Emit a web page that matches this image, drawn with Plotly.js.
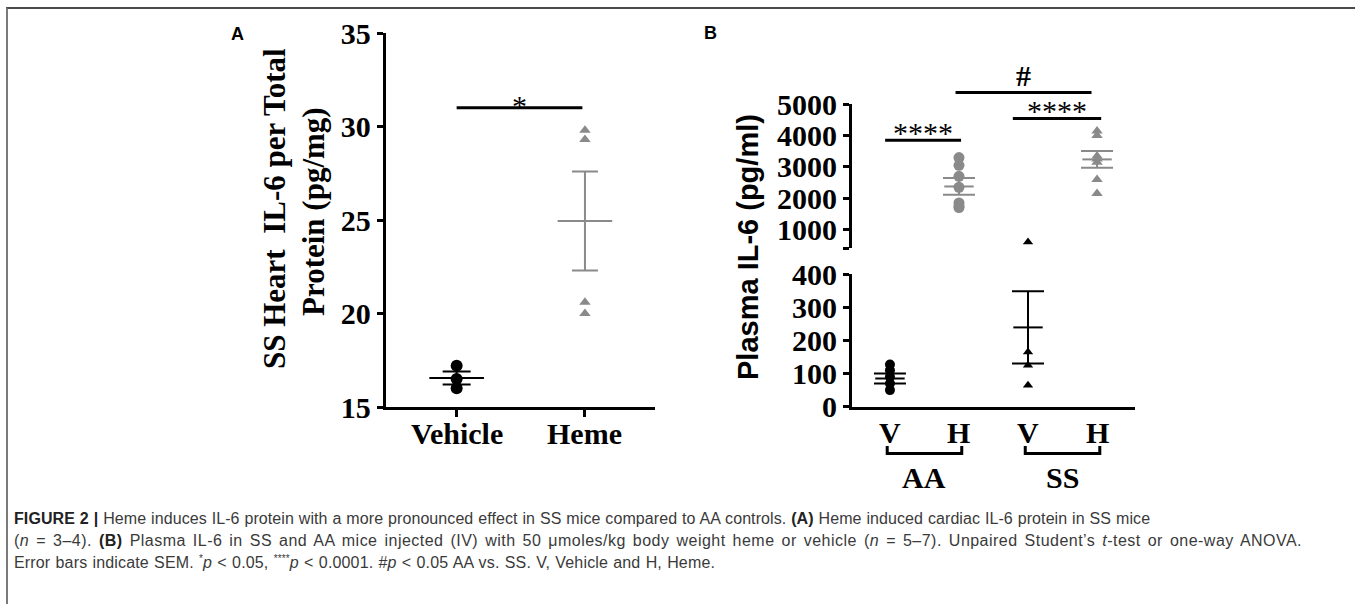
<!DOCTYPE html>
<html><head><meta charset="utf-8">
<script src="https://cdn.plot.ly/plotly-3.0.1.min.js"></script>
<style>
html,body{margin:0;padding:0;background:#fff;overflow:hidden;width:1355px;height:604px;}
#chart{position:absolute;left:0;top:0;width:1355px;height:604px;}
#frame{position:absolute;left:6px;top:7px;width:1349px;height:597px;border-top:2px solid #4a4a4a;border-left:2px solid #7a7a7a;pointer-events:none;}
#cap{position:absolute;left:14px;top:508px;font-family:'Liberation Sans',Arial,sans-serif;font-size:16px;line-height:22px;color:#3a3a3a;}
#cap div{white-space:nowrap;display:inline-block;}
#cap b{color:#222}
#cap sup{font-size:10px;vertical-align:6px;line-height:0}
</style></head><body>
<div id="chart"></div><div id="frame"></div>
<div id="cap">
<div class="ln" data-w="1136"><b>FIGURE 2 |</b> Heme induces IL-6 protein with a more pronounced effect in SS mice compared to AA controls. <b>(A)</b> Heme induced cardiac IL-6 protein in SS mice</div><br>
<div class="ln" data-w="1288">(<i>n</i> = 3–4). <b>(B)</b> Plasma IL-6 in SS and AA mice injected (IV) with 50 μmoles/kg body weight heme or vehicle (<i>n</i> = 5–7). Unpaired Student’s <i>t</i>-test or one-way ANOVA.</div><br>
<div class="ln" data-w="701">Error bars indicate SEM. <sup>*</sup><i>p</i> &lt; 0.05, <sup>****</sup><i>p</i> &lt; 0.0001. #<i>p</i> &lt; 0.05 AA vs. SS. V, Vehicle and H, Heme.</div>
</div>
<script>
// ---------- Panel A data ----------
const catsA = ['Vehicle', 'Heme'];
const vehicleA = [17.2, 16.5, 16.0];
const hemeA = [29.8, 29.3, 20.6, 20.0];
const meanA = [16.55, 24.95];
const semA = [0.35, 2.65];
const ticksA = [15, 20, 25, 30, 35];
const sigLabelsA = ['*'];
const sigLevelsA = [31];
const sigSpansA = [[0, 0.98]];

// ---------- Panel B data ----------
const catsB = ['V', 'H', 'V', 'H'];
const groupsB = ['AA', 'SS'];
const aaV = [127, 110, 90, 70, 50];
const aaH = [3300, 3050, 2700, 2350, 1850, 1750, 1700];
const ssV = [600, 165, 125, 65];
const ssH = [4150, 4000, 3350, 3250, 3150, 2600, 2150];
const meanB = [85, 2375, 239, 3240];
const semB = [15, 267, 109, 267];
const ticksLowB = [0, 100, 200, 300, 400];
const ticksHighB = [400, 1000, 2000, 3000, 4000, 5000];
const ticksHighText = ['', '1000', '2000', '3000', '4000', '5000'];
const breakB = 400;
const topB = 5000;
const sigLabelsB = ['****', '****', '#'];
const sigLevelsB = [3850, 4550, 5380];
const sigSpansB = [[-0.07, 1.03], [1.78, 3.06], [0.95, 2.92]];

// ---------- caption line fitting ----------
document.querySelectorAll('#cap .ln').forEach(el => {
  const target = +el.dataset.w;
  const nat = el.getBoundingClientRect().width;
  const chars = el.textContent.length;
  const extra = target - nat;
  if (extra > 0) {
    el.style.letterSpacing = (extra * 0.55 / chars).toFixed(3) + 'px';
    const w2 = el.getBoundingClientRect().width;
    const spaces = (el.textContent.match(/ /g) || []).length;
    if (spaces) el.style.wordSpacing = ((target - w2) / spaces).toFixed(2) + 'px';
  }
});

// ---------- style ----------
const BLACK = '#000000', GRAY = '#8a8a8a';
const SERIF = 'Liberation Serif, Times New Roman, serif';
const SANS = 'Liberation Sans, Arial, sans-serif';
const W = 1355, H = 604;
const px = v => v / W;
const py = v => 1 - v / H;

const traces = [];
function pts(x, ys, color, symbol, size, xa, ya) {
  return {type: 'scatter', mode: 'markers', x: ys.map(() => x), y: ys, xaxis: xa, yaxis: ya,
    marker: {color: color, symbol: symbol, size: size, line: {width: 0}},
    showlegend: false, cliponaxis: false, hoverinfo: 'y'};
}
function meanSem(x, m, s, color, meanLen, capHalf, xa, ya) {
  return {type: 'scatter', mode: 'markers', x: [x], y: [m], xaxis: xa, yaxis: ya,
    marker: {symbol: 'line-ew', size: meanLen, color: color, line: {color: color, width: 2}},
    error_y: {type: 'data', array: [s], visible: true, color: color, thickness: 2, width: capHalf},
    showlegend: false, cliponaxis: false, hoverinfo: 'y'};
}

// Panel A
traces.push(pts(0, vehicleA, BLACK, 'circle', 12, 'x', 'y'));
traces.push(pts(1, hemeA, GRAY, 'triangle-up', 10, 'x', 'y'));
traces.push(meanSem(0, meanA[0], semA[0], BLACK, 39, 14, 'x', 'y'));
traces.push(meanSem(1, meanA[1], semA[1], GRAY, 39, 13, 'x', 'y'));

// Panel B
const seriesB = [aaV, aaH, ssV, ssH];
const colorsB = [BLACK, GRAY, BLACK, GRAY];
const symbolsB = ['circle', 'circle', 'triangle-up', 'triangle-up'];
const sizesB = [10, 11, 9, 10];
seriesB.forEach((vals, i) => {
  const low = vals.filter(v => v <= breakB);
  const high = vals.filter(v => v > breakB);
  if (low.length) traces.push(pts(i, low, colorsB[i], symbolsB[i], sizesB[i], 'x2', 'y2'));
  if (high.length) traces.push(pts(i, high, colorsB[i], symbolsB[i], sizesB[i], 'x2', 'y3'));
});
meanB.forEach((m, i) => {
  traces.push(meanSem(i, m, semB[i], colorsB[i], 21, 16, 'x2', m > breakB ? 'y3' : 'y2'));
});

// ---------- shapes & annotations ----------
const shapes = [];
const annotations = [];
sigLabelsA.forEach((lab, k) => {
  shapes.push({type: 'line', xref: 'x', yref: 'y', x0: sigSpansA[k][0], x1: sigSpansA[k][1],
    y0: sigLevelsA[k], y1: sigLevelsA[k], line: {color: BLACK, width: 3}});
  annotations.push({xref: 'x', yref: 'y', x: (sigSpansA[k][0] + sigSpansA[k][1]) / 2, y: sigLevelsA[k],
    text: lab, showarrow: false, xanchor: 'center', yanchor: 'middle', yshift: 2,
    font: {family: SERIF, size: 30, color: BLACK}});
});
sigLabelsB.forEach((lab, k) => {
  const frac = (sigLevelsB[k] - breakB) / (topB - breakB);
  shapes.push({type: 'line', xref: 'x2', yref: 'y3 domain', x0: sigSpansB[k][0], x1: sigSpansB[k][1],
    y0: frac, y1: frac, line: {color: BLACK, width: 3}});
  annotations.push({xref: 'x2', yref: 'y3 domain', x: (sigSpansB[k][0] + sigSpansB[k][1]) / 2, y: frac,
    text: lab, showarrow: false, xanchor: 'center', yanchor: 'middle', yshift: lab === '#' ? 17 : 8,
    font: {family: SERIF, size: 30, color: BLACK, weight: lab === '#' ? 'bold' : 'normal'}});
});
// category labels
catsA.forEach((c, i) => {
  annotations.push({xref: 'x', yref: 'paper', x: i, y: py(433), text: '<b>' + c + '</b>', showarrow: false,
    xanchor: 'center', yanchor: 'middle', font: {family: SERIF, size: 30, color: BLACK}});
});
catsB.forEach((c, i) => {
  annotations.push({xref: 'x2', yref: 'paper', x: i, y: py(432), text: '<b>' + c + '</b>', showarrow: false,
    xanchor: 'center', yanchor: 'middle', font: {family: SERIF, size: 30, color: BLACK}});
});
// group brackets under the V/H labels
groupsB.forEach((g, j) => {
  const a = 2 * j - 0.04, b = 2 * j + 1.04;
  const yt = py(446), yb = py(453.5);
  shapes.push({type: 'path', xref: 'x2', yref: 'paper',
    path: `M ${a},${yt} L ${a},${yb} L ${b},${yb} L ${b},${yt}`, line: {color: BLACK, width: 3}});
  annotations.push({xref: 'x2', yref: 'paper', x: 2 * j + 0.5, y: py(477), text: '<b>' + g + '</b>',
    showarrow: false, xanchor: 'center', yanchor: 'middle', font: {family: SERIF, size: 30, color: BLACK}});
});
// panel letters
annotations.push({xref: 'paper', yref: 'paper', x: px(237), y: py(34), text: '<b>A</b>', showarrow: false,
  xanchor: 'center', yanchor: 'middle', font: {family: SANS, size: 18, color: BLACK}});
annotations.push({xref: 'paper', yref: 'paper', x: px(710), y: py(33), text: '<b>B</b>', showarrow: false,
  xanchor: 'center', yanchor: 'middle', font: {family: SANS, size: 18, color: BLACK}});
// axis titles
annotations.push({xref: 'paper', yref: 'paper', x: px(275), y: py(209), textangle: -90, showarrow: false,
  xanchor: 'center', yanchor: 'middle', text: '<b>SS Heart\u00a0\u00a0IL-6 per Total</b>',
  font: {family: SERIF, size: 31, color: BLACK}});
annotations.push({xref: 'paper', yref: 'paper', x: px(313), y: py(212), textangle: -90, showarrow: false,
  xanchor: 'center', yanchor: 'middle', text: '<b>Protein (pg/mg)</b>',
  font: {family: SERIF, size: 31, color: BLACK}});
annotations.push({xref: 'paper', yref: 'paper', x: px(748), y: py(247), textangle: -90, showarrow: false,
  xanchor: 'center', yanchor: 'middle', text: '<b>Plasma IL-6 (pg/ml)</b>',
  font: {family: SANS, size: 29, color: BLACK}});

const tickFont = {family: SERIF, size: 30, color: BLACK, weight: 'bold'};
const axCommon = {showline: true, linewidth: 3, linecolor: BLACK, showgrid: false, zeroline: false,
  tickwidth: 3, tickcolor: BLACK, tickfont: tickFont, fixedrange: true};

const layout = {
  width: W, height: H, margin: {l: 0, r: 0, t: 0, b: 0}, paper_bgcolor: '#fff', plot_bgcolor: 'rgba(0,0,0,0)',
  showlegend: false,
  xaxis: Object.assign({}, axCommon, {domain: [px(385.7), px(655)], range: [-0.553, 1.546], anchor: 'y',
    tickmode: 'array', tickvals: [0, 1], ticktext: catsA, ticks: 'outside', ticklen: 7, showticklabels: false}),
  yaxis: Object.assign({}, axCommon, {domain: [py(407), py(33)], range: [15, 35], anchor: 'x',
    tickmode: 'array', tickvals: ticksA, ticks: 'outside', ticklen: 6}),
  xaxis2: Object.assign({}, axCommon, {domain: [px(852), px(1135)], range: [-0.55, 3.55], anchor: 'y2',
    tickmode: 'array', tickvals: [0, 1, 2, 3], ticktext: catsB, ticks: '', showticklabels: false}),
  yaxis2: Object.assign({}, axCommon, {domain: [py(406.7), py(274)], range: [0, breakB], anchor: 'x2',
    tickmode: 'array', tickvals: ticksLowB, ticks: 'outside', ticklen: 6}),
  yaxis3: Object.assign({}, axCommon, {domain: [py(248.3), py(104.3)], range: [breakB, topB], anchor: 'x2',
    tickmode: 'array', tickvals: ticksHighB, ticktext: ticksHighText, ticks: 'outside', ticklen: 6}),
  shapes: shapes, annotations: annotations
};
Plotly.newPlot('chart', traces, layout, {staticPlot: true, displayModeBar: false});
</script>
</body></html>
